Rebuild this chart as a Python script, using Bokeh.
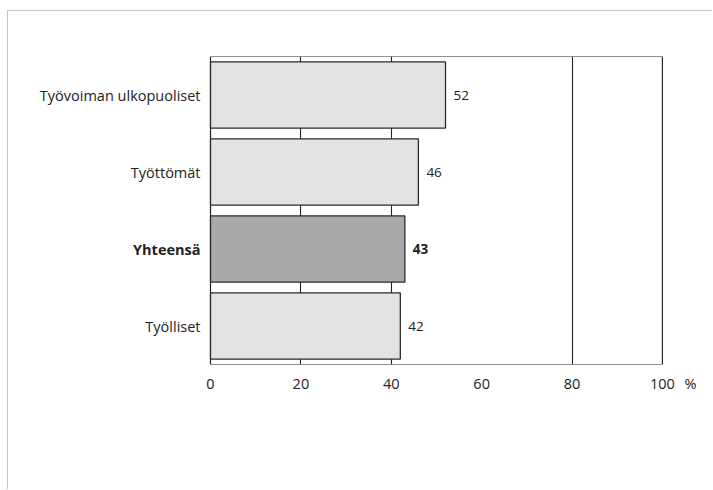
from bokeh.plotting import figure
from bokeh.models import Range1d, FixedTicker, ColumnDataSource
from bokeh.embed import file_html
from bokeh.resources import INLINE
from bokeh.core.properties import value

# Data (top to bottom)
categories = ["Työvoiman ulkopuoliset", "Työttömät", "Yhteensä", "Työlliset"]
values = [52, 46, 43, 42]
highlight = [False, False, True, False]
x_ticks = [0, 20, 40, 60, 80, 100]
x_tick_labels = ["0", "20", "40", "60", "80", "100"]
grid_ticks = [20, 40, 80]
unit_label = "%"

FONT = "Open Sans"
INK = "#222222"
n = len(categories)
ys = [n - 1 - i for i in range(n)]

# layout constants (frame spans the whole width so that labels are not clipped)
X_MIN, X_MAX = 0, 100
X_LEFT, X_RIGHT = -44.7, 111.3
UNIT_POS = 106.2

p = figure(
    width=705, height=479,
    x_range=Range1d(X_LEFT, X_RIGHT), y_range=Range1d(-0.5, n - 0.5),
    output_backend="svg", toolbar_location=None,
    min_border_left=0, min_border_right=0, min_border_top=45, min_border_bottom=126,
    styles={"border-top": "1px solid #c4c4c4", "border-left": "1px solid #c4c4c4",
            "margin-top": "10px", "margin-left": "7px"},
)
p.outline_line_color = None
p.background_fill_color = "white"
p.border_fill_color = "white"

# grid (vertical reference lines)
p.ygrid.visible = False
p.xgrid.ticker = FixedTicker(ticks=grid_ticks)
p.xgrid.grid_line_color = INK
p.xgrid.grid_line_width = 1.1

# axes
p.yaxis.visible = False
ax = p.xaxis[0]
ax.ticker = FixedTicker(ticks=x_ticks + [UNIT_POS])
overrides = {t: l for t, l in zip(x_ticks, x_tick_labels)}
overrides[UNIT_POS] = unit_label
ax.major_label_overrides = overrides
ax.major_tick_in = 0
ax.major_tick_out = 0
ax.minor_tick_in = 0
ax.minor_tick_out = 0
ax.axis_line_color = None
ax.major_label_text_font = FONT
ax.major_label_text_font_size = "14.5px"
ax.major_label_text_color = INK
ax.major_label_standoff = 9

# plot box
p.quad(left=[X_MIN], right=[X_MAX], bottom=[-0.5], top=[n - 0.5],
       fill_color=None, line_color=INK, line_width=1.2, level="underlay")

src = ColumnDataSource(dict(
    y=ys, v=values, cat=categories,
    txt=[str(v) for v in values],
    fill=["#a9a9a9" if h else "#e3e3e3" for h in highlight],
    style=["bold" if h else "normal" for h in highlight],
    zero=[X_MIN] * n,
))
p.hbar(y="y", right="v", left=X_MIN, height=0.86, source=src, fill_color="fill",
       line_color="#2a2a2a", line_width=1.3)

p.text(x="v", y="y", text="txt", x_offset=8, text_baseline="middle", text_align="left",
       text_font=value(FONT), text_font_size="13.5px", text_color=INK,
       text_font_style="style", source=src)

p.text(x="zero", y="y", text="cat", x_offset=-10, text_baseline="middle", text_align="right",
       text_font=value(FONT), text_font_size="14.5px", text_color=INK,
       text_font_style="style", source=src)

open("out.html", "w").write(file_html(p, INLINE))
